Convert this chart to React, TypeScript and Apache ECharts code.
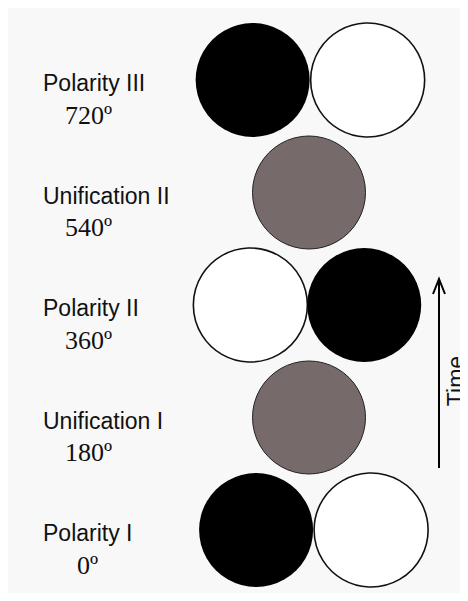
import React, { useEffect, useRef } from "react";
import * as echarts from "echarts";

// Stages of the cycle, bottom (earliest) to top (latest)
const stageNames = ["Polarity I", "Unification I", "Polarity II", "Unification II", "Polarity III"];
const stageDegrees = [0, 180, 360, 540, 720];
const degreeLabels = ["0º", "180º", "360º", "540º", "720º"];

// circle centres: [horizontal offset in diameters, phase in degrees]
const blackCircles = [[-0.46, 0], [0.48, 360], [-0.49, 720]];
const whiteCircles = [[0.54, 0], [-0.51, 360], [0.51, 720]];
const grayCircles = [[0, 180], [0, 540]];

const timeLabel = "Time";

export default function App() {
  const ref = useRef<HTMLDivElement>(null);
  useEffect(() => {
    if (!ref.current) return;
    const chart = echarts.init(ref.current, undefined, { renderer: "svg" });
    const sans = "Liberation Sans, Arial, sans-serif";
    const serif = "Liberation Serif, Times New Roman, serif";
    chart.setOption({
      animation: false,
      backgroundColor: "#f8f8f8",
      grid: { left: 186, right: 44, top: 72, bottom: 63 },
      xAxis: { type: "value", min: -1, max: 1, show: false },
      yAxis: {
        type: "value",
        min: 0,
        max: 720,
        interval: 180,
        axisLine: { show: false },
        axisTick: { show: false },
        splitLine: { show: false },
        axisLabel: {
          margin: 151,
          align: "left",
          verticalAlign: "middle",
          padding: [38, 0, 0, 0],
          formatter: (v: number) => {
            const i = stageDegrees.indexOf(v);
            if (i < 0) return "";
            const dStyle = degreeLabels[i].length < 3 ? "d0" : "d";
            return `{n|${stageNames[i]}}\n{${dStyle}|${degreeLabels[i]}}`;
          },
          rich: {
            n: { fontFamily: sans, fontSize: 23, lineHeight: 32, color: "#111" },
            d: { fontFamily: serif, fontSize: 26, lineHeight: 32, color: "#111", padding: [0, 0, 0, 22] },
            d0: { fontFamily: serif, fontSize: 26, lineHeight: 32, color: "#111", padding: [0, 0, 0, 34] },
          },
        },
      },
      series: [
        {
          type: "scatter",
          name: "unification",
          data: grayCircles,
          symbol: "circle",
          symbolSize: 113,
          itemStyle: { color: "#766a6a", borderColor: "#222", borderWidth: 1, opacity: 1 },
          clip: false,
        },
        {
          type: "scatter",
          name: "white",
          data: whiteCircles,
          symbol: "circle",
          symbolSize: 114,
          itemStyle: { color: "#ffffff", borderColor: "#111", borderWidth: 1.6, opacity: 1 },
          clip: false,
        },
        {
          type: "scatter",
          name: "black",
          data: blackCircles,
          symbol: "circle",
          symbolSize: 114,
          itemStyle: { color: "#000000", opacity: 1 },
          clip: false,
        },
      ],
      graphic: [
        {
          type: "line",
          shape: { x1: 431, y1: 460, x2: 431, y2: 272 },
          style: { stroke: "#000", lineWidth: 2 },
        },
        {
          type: "polyline",
          shape: { points: [[425, 286], [431, 271], [437, 286]] },
          style: { stroke: "#000", lineWidth: 2, fill: null },
        },
        {
          type: "text",
          x: 448,
          y: 373,
          rotation: Math.PI / 2,
          style: {
            text: timeLabel,
            fontFamily: sans,
            fontSize: 23,
            fill: "#111",
            align: "center",
            verticalAlign: "middle",
          },
        },
      ],
    });
    return () => chart.dispose();
  }, []);
  return <div ref={ref} style={{ width: 460, height: 585 }} />;
}
